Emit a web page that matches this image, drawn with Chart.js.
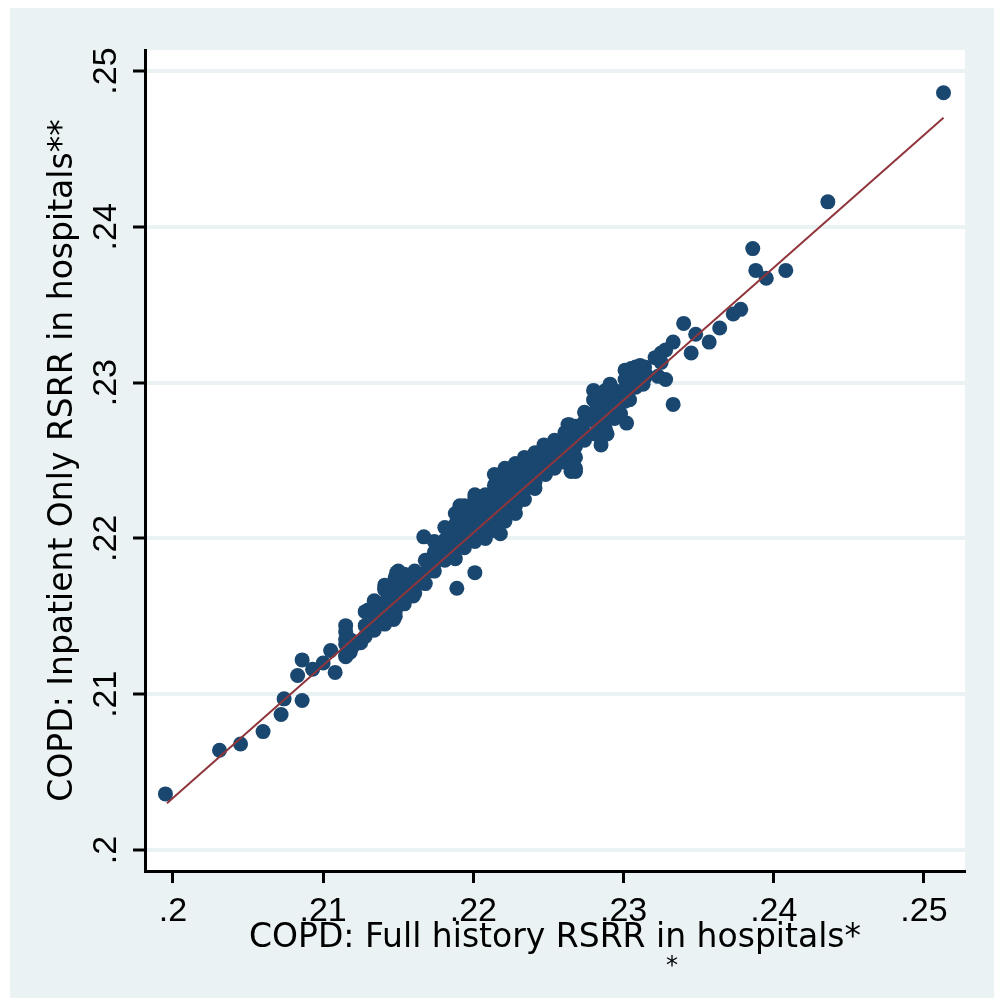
<!DOCTYPE html>
<html>
<head>
<meta charset="utf-8">
<title>COPD RSRR: full history vs inpatient only</title>
<script src="https://cdn.jsdelivr.net/npm/chart.js@4.4.1/dist/chart.umd.min.js"></script>
<style>
  html, body { margin: 0; padding: 0; background: #ffffff; }
  #wrap { position: absolute; left: 10px; top: 8px; width: 984px; height: 990px; }
</style>
</head>
<body>
<div id="wrap"><canvas id="rsrrChart" width="984" height="990"></canvas></div>
<script>
// Hospital RSRR, full history model (x) vs inpatient-only model (y)
const fullHistory = [
  // low tail
  0.1995, 0.2031, 0.2045, 0.2060, 0.2072, 0.2074, 0.2086, 0.2086, 0.2083, 0.2093,
  0.2100, 0.2108, 0.2105, 0.2115, 0.2115, 0.2119, 0.2125, 0.2115, 0.2130, 0.2136,
  0.2141, 0.2149, 0.2147, 0.2135, 0.2145, 0.2148,
  // main cloud
  0.2115, 0.2115, 0.2115, 0.2118, 0.2118, 0.2121,
  0.2128, 0.2128, 0.2128, 0.2134, 0.2134, 0.2134,
  0.2141, 0.2141, 0.2141, 0.2141, 0.2148, 0.2148, 0.2148, 0.2148,
  0.2154, 0.2154, 0.2154, 0.2154, 0.2161, 0.2161, 0.2161,
  0.2168, 0.2168, 0.2168, 0.2174, 0.2174, 0.2174, 0.2174,
  0.2181, 0.2181, 0.2181, 0.2181, 0.2188, 0.2188, 0.2188, 0.2188, 0.2188,
  0.2194, 0.2194, 0.2194, 0.2194, 0.2194, 0.2201, 0.2201, 0.2201, 0.2201, 0.2201,
  0.2208, 0.2208, 0.2208, 0.2208, 0.2208,
  0.2214, 0.2214, 0.2214, 0.2214, 0.2214, 0.2214,
  0.2221, 0.2221, 0.2221, 0.2221, 0.2221, 0.2221,
  0.2228, 0.2228, 0.2228, 0.2228, 0.2228, 0.2228,
  0.2234, 0.2234, 0.2234, 0.2234, 0.2234, 0.2241, 0.2241, 0.2241, 0.2241, 0.2241,
  0.2248, 0.2248, 0.2248, 0.2248, 0.2254, 0.2254, 0.2254, 0.2254,
  0.2261, 0.2261, 0.2261, 0.2261, 0.2268, 0.2268, 0.2268, 0.2268, 0.2268,
  0.2274, 0.2274, 0.2274, 0.2274, 0.2281, 0.2281, 0.2281, 0.2281, 0.2281,
  0.2288, 0.2288, 0.2288, 0.2288, 0.2288, 0.2294, 0.2294, 0.2294, 0.2294,
  0.2301, 0.2301, 0.2301, 0.2301, 0.2308, 0.2308, 0.2308,
  0.2314, 0.2314, 0.2321, 0.2328,
  // around the cloud
  0.2167, 0.2201, 0.2189, 0.2218, 0.2265, 0.2263, 0.2191, 0.2201, 0.2247, 0.2160,
  0.2148, 0.2141, 0.2150,
  0.2340, 0.2348, 0.2364, 0.2333, 0.2357, 0.2345, 0.2325, 0.2328, 0.2333, 0.2311,
  0.2305, 0.2315, 0.2325, 0.2323, 0.2313, 0.2280, 0.2291, 0.2300, 0.2304, 0.2302,
  0.2284, 0.2280, 0.2298, 0.2278, 0.2289, 0.2264, 0.2262, 0.2267, 0.2285, 0.2268,
  0.2260,
  // high tail
  0.2513, 0.2436, 0.2386, 0.2388, 0.2395, 0.2408, 0.2373, 0.2378
];
const inpatientOnly = [
  0.2036, 0.2064, 0.2068, 0.2076, 0.2087, 0.2097, 0.2096, 0.2122, 0.2112, 0.2116,
  0.2120, 0.2114, 0.2128, 0.2144, 0.2135, 0.2130, 0.2133, 0.2124, 0.2154, 0.2157,
  0.2168, 0.2178, 0.2148, 0.2144, 0.2163, 0.2172,
  0.2140, 0.2132, 0.2125, 0.2135, 0.2127, 0.2132,
  0.2153, 0.2144, 0.2137, 0.2160, 0.2151, 0.2141,
  0.2167, 0.2159, 0.2151, 0.2145, 0.2175, 0.2167, 0.2160, 0.2153,
  0.2177, 0.2170, 0.2163, 0.2158, 0.2179, 0.2172, 0.2165,
  0.2186, 0.2178, 0.2171, 0.2198, 0.2191, 0.2184, 0.2179,
  0.2207, 0.2199, 0.2192, 0.2186, 0.2216, 0.2209, 0.2202, 0.2194, 0.2187,
  0.2221, 0.2214, 0.2207, 0.2200, 0.2194, 0.2226, 0.2218, 0.2211, 0.2204, 0.2198,
  0.2228, 0.2221, 0.2214, 0.2207, 0.2200,
  0.2241, 0.2234, 0.2227, 0.2220, 0.2213, 0.2205,
  0.2245, 0.2238, 0.2231, 0.2224, 0.2217, 0.2211,
  0.2248, 0.2241, 0.2234, 0.2227, 0.2221, 0.2216,
  0.2252, 0.2245, 0.2238, 0.2231, 0.2225, 0.2255, 0.2249, 0.2243, 0.2236, 0.2232,
  0.2258, 0.2252, 0.2246, 0.2241, 0.2263, 0.2256, 0.2250, 0.2245,
  0.2268, 0.2262, 0.2255, 0.2249, 0.2272, 0.2265, 0.2259, 0.2252, 0.2245,
  0.2281, 0.2275, 0.2268, 0.2263, 0.2294, 0.2288, 0.2281, 0.2275, 0.2267,
  0.2295, 0.2289, 0.2282, 0.2276, 0.2270, 0.2295, 0.2289, 0.2282, 0.2277,
  0.2308, 0.2302, 0.2295, 0.2288, 0.2310, 0.2304, 0.2297,
  0.2310, 0.2303, 0.2316, 0.2321,
  0.2201, 0.2178, 0.2168, 0.2203, 0.2243, 0.2273, 0.2221, 0.2228, 0.2260, 0.2163,
  0.2150, 0.2170, 0.2179,
  0.2338, 0.2331, 0.2335, 0.2326, 0.2326, 0.2319, 0.2319, 0.2302, 0.2286, 0.2311,
  0.2309, 0.2305, 0.2313, 0.2304, 0.2299, 0.2295, 0.2299, 0.2295, 0.2289, 0.2274,
  0.2289, 0.2289, 0.2280, 0.2277, 0.2267, 0.2273, 0.2267, 0.2258, 0.2260, 0.2243,
  0.2249,
  0.2486, 0.2416, 0.2386, 0.2372, 0.2367, 0.2372, 0.2344, 0.2347
];

// linear fit line, drawn between the smallest and largest x
const fitX = [0.1996, 0.2513];
const fitY = [0.2030, 0.2470];

const tickValues = [0.2, 0.21, 0.22, 0.23, 0.24, 0.25];
const tickLabels = [".2", ".21", ".22", ".23", ".24", ".25"];

const navy = "#1a476f";
const maroon = "#90353b";
const bgBlue = "#eaf2f3";

// light outer region with a white plot region
const backdrop = {
  id: "backdrop",
  beforeDraw(chart) {
    const { ctx, chartArea: a } = chart;
    ctx.save();
    ctx.fillStyle = bgBlue;
    ctx.fillRect(0, 0, chart.width, chart.height);
    ctx.fillStyle = "#ffffff";
    ctx.fillRect(a.left, a.top, a.right - a.left, a.bottom - a.top);
    ctx.restore();
  },
  afterDraw(chart) {
    // footnote mark under the x title
    const ctx = chart.ctx;
    ctx.save();
    ctx.fillStyle = "#000";
    ctx.font = '24px "DejaVu Sans"';
    ctx.textAlign = "center";
    ctx.textBaseline = "middle";
    ctx.fillText("*", 662, 959);
    ctx.restore();
  },
};

const points = fullHistory.map((x, i) => ({ x: x, y: inpatientOnly[i] }));
const fitLine = fitX.map((x, i) => ({ x: x, y: fitY[i] }));

function fixedTicks(scale) {
  scale.ticks = tickValues.map((v) => ({ value: v }));
}

const tickFont = { family: "Liberation Sans", size: 34 };
const titleFont = { family: "DejaVu Sans", size: 33, lineHeight: 1.2 };

new Chart(document.getElementById("rsrrChart"), {
  type: "scatter",
  data: {
    datasets: [
      {
        type: "line",
        data: fitLine,
        borderColor: maroon,
        borderWidth: 2,
        pointRadius: 0,
        fill: false,
        order: 0,
      },
      {
        data: points,
        pointStyle: "circle",
        pointRadius: 7.5,
        pointBorderWidth: 0,
        backgroundColor: navy,
        borderColor: navy,
        order: 1,
      },
    ],
  },
  options: {
    responsive: false,
    animation: false,
    devicePixelRatio: 1,
    layout: { padding: { left: 0, top: 42, right: 29, bottom: 0 } },
    plugins: {
      legend: { display: false },
      tooltip: { enabled: false },
    },
    scales: {
      x: {
        type: "linear",
        min: 0.19814,
        max: 0.25273,
        afterBuildTicks: fixedTicks,
        afterFit(scale) {
          scale.height = 127;
        },
        grid: {
          drawOnChartArea: false,
          drawTicks: true,
          tickLength: 12,
          tickWidth: 3,
          tickColor: "#000",
        },
        border: { display: true, color: "#000", width: 3 },
        ticks: {
          autoSkip: false,
          maxRotation: 0,
          padding: 8,
          color: "#000",
          font: tickFont,
          callback: (v, i) => tickLabels[i],
        },
        title: {
          display: true,
          text: "COPD: Full history RSRR in hospitals*",
          color: "#000",
          font: titleFont,
          padding: { top: 0, bottom: 40 },
        },
      },
      y: {
        type: "linear",
        min: 0.198652,
        max: 0.251348,
        afterBuildTicks: fixedTicks,
        afterFit(scale) {
          scale.width = 135;
        },
        grid: {
          color: bgBlue,
          lineWidth: 4,
          drawTicks: true,
          tickLength: 12,
          tickWidth: 3,
          tickColor: "#000",
        },
        border: { display: true, color: "#000", width: 3 },
        ticks: {
          autoSkip: false,
          minRotation: 90,
          maxRotation: 90,
          crossAlign: "center",
          padding: 3,
          color: "#000",
          font: tickFont,
          callback: (v, i) => tickLabels[i],
        },
        title: {
          display: true,
          text: "COPD: Inpatient Only RSRR in hospitals**",
          color: "#000",
          font: titleFont,
          padding: { top: 34, bottom: 0 },
        },
      },
    },
  },
  plugins: [backdrop],
});
</script>
</body>
</html>
